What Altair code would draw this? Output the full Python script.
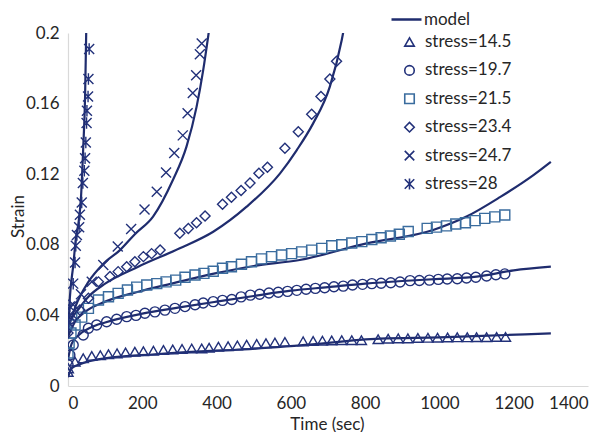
import altair as alt
import pandas as pd

NAVY = "#1F2C6E"
MARK = "#22317A"
STEEL = "#3A6C9E"
FONT = "Lato"
FS = 17

series_labels = ["stress=14.5", "stress=19.7", "stress=21.5", "stress=23.4", "stress=24.7", "stress=28"]
series_colors = [MARK, MARK, STEEL, MARK, MARK, MARK]
series_shapes = [
    "triangle-up",
    "circle",
    "square",
    "diamond",
    "M-1,-1L1,1M-1,1L1,-1",
    "M-1,-1L1,1M-1,1L1,-1M0,-1.15L0,1.15",
]

# ---- measured data (time in sec, strain) ----
t_145 = [0, 1, 19, 41, 64, 87, 109, 132, 155, 180, 203, 230, 257, 282, 307, 333, 360, 380, 405, 431, 456,
         481, 508, 533, 557, 584, 633, 660, 685, 710, 737, 764, 790, 835, 862, 889, 915, 942, 969, 995,
         1022, 1048, 1075, 1100, 1127, 1154, 1178]
s_145 = [0.008, 0.010, 0.0138, 0.0157, 0.017, 0.0175, 0.018, 0.0185, 0.019, 0.0194, 0.0197, 0.020, 0.0204,
         0.0207, 0.021, 0.0212, 0.0213, 0.0217, 0.0223, 0.0226, 0.023, 0.0234, 0.0238, 0.0242, 0.0246, 0.025,
         0.0253, 0.0255, 0.0257, 0.0258, 0.026, 0.026, 0.026, 0.0265, 0.0268, 0.027, 0.027, 0.0272, 0.0273,
         0.0274, 0.0275, 0.0276, 0.0276, 0.0277, 0.0277, 0.0278, 0.0278]

t_197 = [0, 5, 14, 41, 55, 77, 104, 131, 158, 183, 207, 234, 261, 288, 315, 342, 364, 391, 416, 441, 466,
         491, 516, 541, 566, 591, 616, 641, 666, 691, 716, 741, 766, 793, 818, 843, 869, 894, 921, 946, 973,
         997, 1021, 1048, 1073, 1098, 1127, 1152, 1176]
s_197 = [0.012, 0.0176, 0.0232, 0.0289, 0.0327, 0.0346, 0.0364, 0.0378, 0.0393, 0.040, 0.0412, 0.042, 0.043,
         0.044, 0.045, 0.046, 0.047, 0.0478, 0.0485, 0.049, 0.0505, 0.0515, 0.052, 0.0527, 0.0531, 0.0536,
         0.0542, 0.0548, 0.0553, 0.0557, 0.0562, 0.0566, 0.0572, 0.0576, 0.058, 0.0582, 0.0585, 0.0589,
         0.0597, 0.0598, 0.060, 0.0604, 0.0606, 0.0608, 0.0612, 0.0616, 0.0623, 0.063, 0.0635]

t_215 = [0, 3, 8, 19, 37, 55, 82, 109, 135, 160, 185, 212, 239, 264, 290, 315, 342, 366, 391, 416, 440, 467,
         494, 521, 548, 575, 602, 629, 656, 683, 710, 737, 764, 791, 818, 843, 868, 892, 916, 967, 992, 1019,
         1044, 1070, 1096, 1122, 1149, 1176]
s_215 = [0.0187, 0.0243, 0.030, 0.0346, 0.039, 0.044, 0.0487, 0.0506, 0.0525, 0.0544, 0.056, 0.0572, 0.058,
         0.059, 0.060, 0.0616, 0.0629, 0.0638, 0.065, 0.0667, 0.0676, 0.069, 0.0704, 0.072, 0.0733, 0.0742,
         0.075, 0.076, 0.077, 0.078, 0.0795, 0.080, 0.081, 0.0818, 0.083, 0.084, 0.085, 0.086, 0.0875, 0.0893,
         0.090, 0.0907, 0.0918, 0.0925, 0.0937, 0.095, 0.0958, 0.0969]

t_234 = [0, 10, 32, 55, 82, 113, 135, 158, 180, 203, 225, 248, 301, 324, 346, 369, 416, 440, 466, 490, 514,
         537, 584, 620, 656, 681, 705, 723]
s_234 = [0.030, 0.038, 0.043, 0.0497, 0.059, 0.062, 0.0648, 0.0676, 0.0704, 0.0733, 0.075, 0.077, 0.0865,
         0.0893, 0.0925, 0.0963, 0.103, 0.107, 0.1107, 0.115, 0.1205, 0.124, 0.1347, 0.144, 0.154, 0.164,
         0.174, 0.184]

t_247 = [3, 14, 35, 64, 95, 134, 170, 206, 239, 264, 286, 309, 322, 336, 345, 355, 360]
s_247 = [0.040, 0.046, 0.052, 0.059, 0.0686, 0.079, 0.089, 0.100, 0.110, 0.121, 0.132, 0.142, 0.1545, 0.166,
         0.176, 0.188, 0.194]

t_28 = [1, 5, 14, 19, 21, 24, 30, 32, 37, 40, 44, 46, 48, 50, 51, 54, 55, 57]
s_28 = [0.036, 0.045, 0.058, 0.070, 0.0795, 0.0855, 0.090, 0.097, 0.104, 0.115, 0.122, 0.129, 0.138, 0.149,
        0.156, 0.164, 0.174, 0.191]

# ---- model curves ----
mt_145 = [0, 10, 28, 100, 234, 396, 445, 624, 840, 1000, 1181, 1300]
ms_145 = [0.005, 0.010, 0.012, 0.0157, 0.018, 0.020, 0.0204, 0.023, 0.0268, 0.0275, 0.0289, 0.0298]
mt_197 = [0, 10, 30, 60, 100, 200, 300, 400, 500, 600, 700, 800, 900, 1000, 1100, 1200, 1300]
ms_197 = [0.015, 0.024, 0.029, 0.033, 0.036, 0.041, 0.0445, 0.0478, 0.051, 0.054, 0.056, 0.058, 0.0595,
          0.0607, 0.062, 0.0655, 0.0676]
mt_215 = [0, 19, 46, 100, 189, 279, 396, 500, 624, 804, 983, 1073, 1163, 1253, 1300]
ms_215 = [0.028, 0.0364, 0.042, 0.0478, 0.0534, 0.058, 0.0638, 0.068, 0.0714, 0.0808, 0.0884, 0.096, 0.107,
          0.1195, 0.127]
mt_234 = [0, 19, 55, 100, 189, 301, 391, 481, 571, 616, 660, 705, 737, 745]
ms_234 = [0.036, 0.041, 0.0506, 0.058, 0.0676, 0.078, 0.0874, 0.1016, 0.1205, 0.1337, 0.1488, 0.1696, 0.196,
          0.205]
mt_247 = [0, 20, 55, 94, 140, 180, 229, 283, 319, 346, 364, 378, 382]
ms_247 = [0.032, 0.045, 0.059, 0.069, 0.077, 0.086, 0.096, 0.117, 0.1356, 0.158, 0.179, 0.199, 0.205]
mt_28 = [0, 5, 14, 22, 28, 35, 41, 46, 49, 50]
ms_28 = [0.028, 0.050, 0.068, 0.085, 0.092, 0.107, 0.135, 0.164, 0.2, 0.21]

pts_t = [t_145, t_197, t_215, t_234, t_247, t_28]
pts_s = [s_145, s_197, s_215, s_234, s_247, s_28]
mod_t = [mt_145, mt_197, mt_215, mt_234, mt_247, mt_28]
mod_s = [ms_145, ms_197, ms_215, ms_234, ms_247, ms_28]

rows = []
for lab, ts, ss in zip(series_labels, pts_t, pts_s):
    for t, s in zip(ts, ss):
        rows.append({"series": lab, "t": t, "s": s})
pts = pd.DataFrame(rows)

mrows = []
for lab, ts, ss in zip(series_labels, mod_t, mod_s):
    for i, (t, s) in enumerate(zip(ts, ss)):
        mrows.append({"curve": lab, "kind": "model", "t": t, "s": s, "i": i})
mod = pd.DataFrame(mrows)

x_enc = alt.X("t:Q", scale=alt.Scale(domain=[0, 1400], nice=False),
              axis=alt.Axis(values=list(range(0, 1401, 200)), format="d", title="Time (sec)",
                            titleX=259, titleY=38, titleBaseline="middle", titleAlign="center"))
y_enc = alt.Y("s:Q", scale=alt.Scale(domain=[0, 0.2], nice=False),
              axis=alt.Axis(values=[0, 0.04, 0.08, 0.12, 0.16, 0.2], format="~g", title="Strain",
                            titleX=-50, titleY=183, titleBaseline="middle", titleAlign="center"))

lines = alt.Chart(mod).mark_line(clip=True, interpolate="monotone", strokeWidth=2.2).encode(
    x=x_enc, y=y_enc,
    detail="curve:N",
    order="i:Q",
    stroke=alt.Stroke("kind:N", scale=alt.Scale(domain=["model"], range=[NAVY]),
                      legend=alt.Legend(title=None, orient="none", legendX=322, legendY=-30,
                                        symbolType="stroke", symbolSize=900, symbolStrokeWidth=2.5,
                                        labelOffset=1, padding=0, labelFontSize=FS, labelFont=FONT,
                                        labelColor="#262626")),
)

leg = dict(title=None, orient="none", legendX=333, legendY=0.5, symbolSize=90, symbolStrokeWidth=1.6,
           labelOffset=7, rowPadding=10.4, padding=0, labelFontSize=FS, labelFont=FONT,
           labelColor="#262626")

points = alt.Chart(pts).mark_point(filled=False, size=100, strokeWidth=1.4, clip=True, opacity=1).encode(
    x=x_enc, y=y_enc,
    color=alt.Color("series:N", scale=alt.Scale(domain=series_labels, range=series_colors),
                    legend=alt.Legend(**leg)),
    shape=alt.Shape("series:N", scale=alt.Scale(domain=series_labels, range=series_shapes),
                    legend=alt.Legend(**leg)),
)

chart = alt.layer(lines, points).properties(
    width=520, height=353,
    padding={"left": 60, "top": 25, "right": 15, "bottom": 46},
    autosize=alt.AutoSizeParams(type="none"),
).configure_view(stroke=None).configure_axis(
    grid=False, ticks=False, domainColor="#D9D9D9", domainWidth=1.2,
    labelFont=FONT, labelFontSize=FS, labelColor="#262626", labelPadding=9,
    titleFont=FONT, titleFontSize=FS, titleFontWeight="normal", titleColor="#262626",
)

chart.save("out.html", embed_options={"renderer": "svg", "actions": False})
